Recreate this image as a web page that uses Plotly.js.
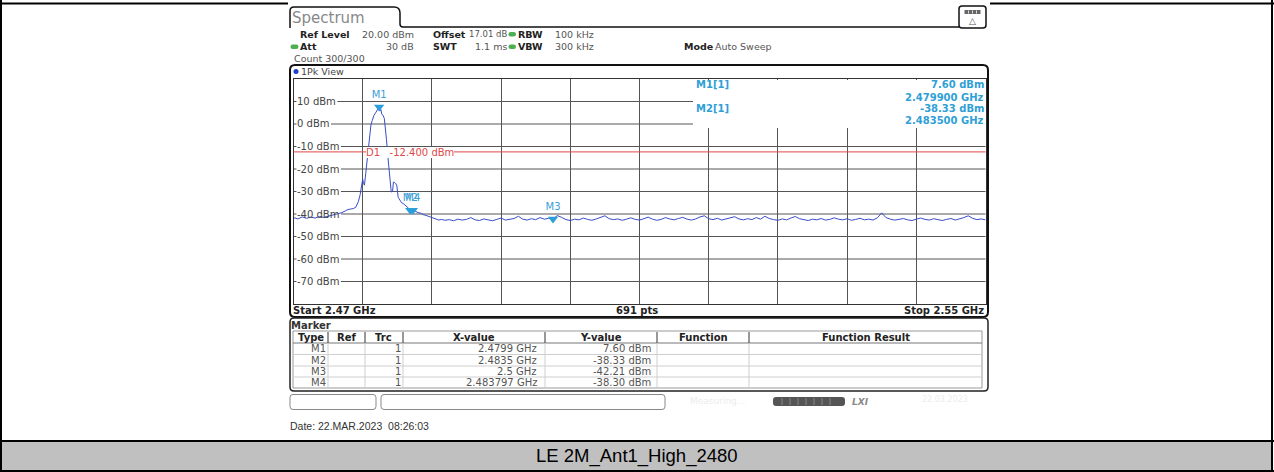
<!DOCTYPE html>
<html>
<head>
<meta charset="utf-8">
<script src="https://cdn.plot.ly/plotly-3.0.1.min.js"></script>
<style>html,body{margin:0;padding:0;background:#fff;}#chart{width:1274px;height:472px;}</style>
</head>
<body>
<div id="chart"></div>
<script>
// ---------------- DATA ----------------
const startGHz = 2.47;
const stopGHz = 2.55;
const sweepPoints = 691;
const refLevelDbm = 20;
const bottomLevelDbm = -80;
const yTickLevels = [10, 0, -10, -20, -30, -40, -50, -60, -70];
const d1LineDbm = -12.4;

// left noise floor: 2470.0 .. 2473.5 MHz, 0.5 MHz apart
const leftFloorStartMHz = 2470.0;
const leftFloorDbm = [-41.6, -42.2, -41.3, -41.9, -41.4, -41.8, -41.1, -41.5];

// main lobe (explicit frequency / level pairs)
const lobeFreqMHz = [2474.0, 2474.4, 2474.8, 2475.2, 2475.6, 2476.0, 2476.3, 2476.6, 2476.9, 2477.2,
  2477.5, 2477.7, 2477.9, 2478.0, 2478.1, 2478.2, 2478.35, 2478.5, 2478.65, 2478.8,
  2478.95, 2479.1, 2479.3, 2479.5, 2479.7, 2479.8, 2479.9, 2480.0, 2480.1, 2480.2,
  2480.35, 2480.5, 2480.6, 2480.75, 2480.9, 2481.05, 2481.2, 2481.3, 2481.45, 2481.55,
  2481.7, 2481.85, 2481.95, 2482.1, 2482.3, 2482.5, 2482.7, 2482.9, 2483.1, 2483.3,
  2483.5, 2483.8, 2484.1, 2484.4, 2484.7, 2485.0, 2485.3, 2485.6, 2485.9, 2486.2,
  2486.5, 2486.8, 2487.1];
const lobeDbm = [-41.0, -40.6, -40.2, -40.0, -39.4, -38.6, -38.0, -37.8, -37.6, -37.0,
  -34.5, -31.5, -27.0, -24.5, -26.5, -27.2, -22.0, -17.0, -11.0, -5.0,
  -0.5, 1.5, 3.8, 5.0, 6.5, 7.2, 7.6, 5.8, 6.4, 4.5,
  3.8, 2.5, -0.5, -7.0, -14.0, -20.0, -26.5, -30.2, -30.0, -25.8,
  -26.0, -26.6, -27.5, -32.6, -33.8, -35.0, -35.4, -36.0, -36.6, -37.4,
  -38.33, -38.3, -38.8, -39.4, -39.6, -40.3, -40.6, -41.0, -41.5, -41.9,
  -42.5, -42.7, -42.4];

// right noise floor: 2487.5 .. 2550.0 MHz, 0.5 MHz apart
const rightFloorStartMHz = 2487.5;
const floorStepMHz = 0.5;
const rightFloorDbm = [-42.8, -42.5, -43.0, -42.3, -42.7, -42.4, -41.6, -42.6, -42.9, -42.2,
  -42.6, -43.0, -42.4, -41.8, -42.7, -42.5, -42.0, -41.0, -42.3, -42.7,
  -42.1, -42.5, -41.6, -42.3, -41.9, -42.2, -40.7, -41.5, -42.5, -42.9,
  -42.3, -42.6, -41.8, -42.4, -42.8, -42.2, -41.6, -40.8, -42.1, -42.5,
  -42.2, -42.8, -42.3, -41.7, -42.4, -42.7, -42.1, -41.4, -42.3, -42.8,
  -42.4, -41.6, -42.2, -42.6, -42.0, -41.5, -42.3, -42.7, -42.2, -41.3,
  -40.8, -42.1, -42.5, -41.9, -42.7, -42.3, -41.8, -41.2, -42.2, -42.6,
  -42.1, -42.5, -41.6, -42.3, -41.0, -42.0, -42.5, -42.8, -42.2, -42.6,
  -41.8, -41.1, -42.1, -42.5, -42.9, -42.3, -42.6, -42.0, -42.7, -42.4,
  -41.7, -42.3, -42.6, -42.1, -42.8, -42.4, -41.9, -42.6, -42.3, -42.7,
  -41.7, -39.5, -41.6, -42.3, -42.7, -42.4, -42.0, -42.6, -42.9, -42.3,
  -41.8, -42.4, -42.7, -42.1, -42.6, -42.9, -42.4, -42.0, -42.7, -42.3,
  -41.6, -40.8, -41.9, -42.5, -42.2, -42.6];

// markers
const markerNames = ['M1', 'M2', 'M3', 'M4'];
const markerFreqGHz = [2.4799, 2.4835, 2.5, 2.483797];
const markerFreqText = ['2.4799 GHz', '2.4835 GHz', '2.5 GHz', '2.483797 GHz'];
const markerLevelDbm = [7.60, -38.33, -42.21, -38.30];
const markerTrace = [1, 1, 1, 1];

// header texts
const headerRows = {
  refLevel: '20.00 dBm', offset: '17.01 dB', rbw: '100 kHz',
  att: '30 dB', swt: '1.1 ms', vbw: '300 kHz', mode: 'Auto Sweep', count: 'Count 300/300'
};
const dateText = 'Date: 22.MAR.2023\u00a0\u00a008:26:03';
const captionText = 'LE 2M_Ant1_High_2480';

// ---------------- BUILD TRACE ----------------
const traceX = [], traceY = [];
leftFloorDbm.forEach((v, i) => { traceX.push((leftFloorStartMHz + i * floorStepMHz) / 1000); traceY.push(v); });
lobeDbm.forEach((v, i) => { traceX.push(lobeFreqMHz[i] / 1000); traceY.push(v); });
rightFloorDbm.forEach((v, i) => { traceX.push((rightFloorStartMHz + i * floorStepMHz) / 1000); traceY.push(v); });

// ---------------- LAYOUT HELPERS ----------------
const W = 1274, H = 472;
const px = x => x / W;
const py = y => 1 - y / H;
const FONT = 'DejaVu Sans';
const shapes = [];
const ann = [];

function rect(x0, y0, x1, y1, o) {
  shapes.push({type: 'rect', xref: 'paper', yref: 'paper', x0: px(x0), x1: px(x1), y0: py(y1), y1: py(y0),
    line: {color: o.lc || 'rgba(0,0,0,0)', width: o.lw || 0}, fillcolor: o.fill || 'rgba(0,0,0,0)', layer: o.layer || 'above'});
}
function seg(x0, y0, x1, y1, color, width, layer) {
  shapes.push({type: 'line', xref: 'paper', yref: 'paper', x0: px(x0), x1: px(x1), y0: py(y0), y1: py(y1),
    line: {color: color, width: width}, layer: layer || 'above'});
}
function rpath(x0, y0, x1, y1, r) {
  const X = v => px(v).toFixed(5), Y = v => py(v).toFixed(5);
  return `M${X(x0 + r)},${Y(y0)} L${X(x1 - r)},${Y(y0)} Q${X(x1)},${Y(y0)} ${X(x1)},${Y(y0 + r)} L${X(x1)},${Y(y1 - r)} Q${X(x1)},${Y(y1)} ${X(x1 - r)},${Y(y1)} L${X(x0 + r)},${Y(y1)} Q${X(x0)},${Y(y1)} ${X(x0)},${Y(y1 - r)} L${X(x0)},${Y(y0 + r)} Q${X(x0)},${Y(y0)} ${X(x0 + r)},${Y(y0)} Z`;
}
function rrect(x0, y0, x1, y1, r, o) {
  shapes.push({type: 'path', xref: 'paper', yref: 'paper', path: rpath(x0, y0, x1, y1, r),
    line: {color: o.lc || 'rgba(0,0,0,0)', width: o.lw || 0}, fillcolor: o.fill || 'rgba(0,0,0,0)', layer: o.layer || 'above'});
}
function T(x, y, text, o) {
  o = o || {};
  ann.push({xref: 'paper', yref: 'paper', x: px(x), y: py(y), text: text, showarrow: false,
    xanchor: o.a || 'left', yanchor: 'middle', borderpad: 0, borderwidth: 0,
    bgcolor: o.bg || 'rgba(0,0,0,0)',
    font: {family: o.f || FONT, size: o.s || 10, color: o.c || '#333'}});
}
// approximate DejaVu Sans advance widths (em) for the y labels
const CW = {'0': .636, '1': .636, '2': .636, '3': .636, '4': .636, '5': .636, '6': .636, '7': .636, '8': .636, '9': .636,
  '-': .361, ' ': .318, 'd': .635, 'B': .686, 'm': .974};
const textW = (s, size) => s.split('').reduce((a, ch) => a + (CW[ch] || .6), 0) * size;

// ---------------- OUTER DOCUMENT FRAME ----------------
rect(1, 441, 1272, 471, {fill: '#c0c0c0', layer: 'below'});
seg(1, 0, 1, 472, '#000', 2, 'below');
seg(1272, 0, 1272, 472, '#000', 2, 'below');
seg(0, 3.5, 1274, 3.5, '#000', 2, 'below');
seg(0, 441, 1274, 441, '#000', 2, 'below');
seg(0, 471, 1274, 471, '#000', 2, 'below');
rect(288, 1, 990, 440, {fill: '#ffffff', layer: 'below'});
T(637, 456, captionText, {a: 'center', f: 'Liberation Sans', s: 18.5, c: '#000'});
T(289.5, 426, dateText, {f: 'Liberation Sans', s: 10.5, c: '#333'});

// ---------------- INSTRUMENT HEADER ----------------
shapes.push({type: 'path', xref: 'paper', yref: 'paper', layer: 'above',
  path: `M${px(290)},${py(28)} L${px(290)},${py(11)} Q${px(290)},${py(7)} ${px(294)},${py(7)} L${px(394)},${py(7)} Q${px(400)},${py(7)} ${px(400)},${py(13)} L${px(400)},${py(24)} Q${px(400)},${py(27)} ${px(403)},${py(27)} L${px(959)},${py(27)}`,
  line: {color: '#111', width: 1.5}});
T(292, 18, 'Spectrum', {s: 15, c: '#888'});
// icon
rrect(959, 6, 986, 28, 3, {lc: '#111', lw: 1.5, fill: '#fff'});
rect(964.5, 10, 980.5, 14, {fill: '#666'});
[968.5, 972.5, 976.5].forEach(x => seg(x, 10.5, x, 13.5, '#ddd', 1));
T(972.5, 21, '△', {a: 'center', s: 9, c: '#555'});

// header rows
const LB = 9.5, VS = 9.5;
T(300, 34, '<b>Ref Level</b>', {s: LB, c: '#222'});
T(414, 34, headerRows.refLevel, {a: 'right', s: VS, c: '#555'});
T(433, 34, '<b>Offset</b>', {s: LB, c: '#222'});
T(507, 34, headerRows.offset, {a: 'right', s: 8.5, c: '#555'});
rrect(508.5, 32, 516, 36.5, 2.2, {fill: '#4caf50'});
T(518, 34, '<b>RBW</b>', {s: LB, c: '#222'});
T(555, 34, headerRows.rbw, {s: VS, c: '#555'});

rrect(290.5, 44.5, 298.5, 49, 2.2, {fill: '#4caf50'});
T(300, 46.5, '<b>Att</b>', {s: LB, c: '#222'});
T(414, 46.5, headerRows.att, {a: 'right', s: VS, c: '#555'});
T(433, 46.5, '<b>SWT</b>', {s: LB, c: '#222'});
T(507, 46.5, headerRows.swt, {a: 'right', s: VS, c: '#555'});
rrect(508.5, 44.5, 516, 49, 2.2, {fill: '#4caf50'});
T(518, 46.5, '<b>VBW</b>', {s: LB, c: '#222'});
T(555, 46.5, headerRows.vbw, {s: VS, c: '#555'});
T(684, 46.5, '<b>Mode</b>', {s: LB, c: '#222'});
T(715, 46.5, headerRows.mode, {s: VS, c: '#555'});
T(294, 58.5, headerRows.count, {s: VS, c: '#555'});

// ---------------- PLOT FRAME ----------------
rrect(290, 65, 988, 317, 5, {lc: '#111', lw: 2});
shapes.push({type: 'circle', xref: 'paper', yref: 'paper', x0: px(293.5), x1: px(298.5), y0: py(74), y1: py(69), fillcolor: '#1f3fc8', line: {width: 0}, layer: 'above'});
T(300.5, 71.5, '1Pk View', {s: 9.5, c: '#444'});

// horizontal grid lines (drawn beneath the trace, with a gap where each label sits)
const labelX = 297;
yTickLevels.forEach(v => {
  const lbl = v + ' dBm';
  const endX = (v >= 0) ? px(693) : px(985.5);
  shapes.push({type: 'line', xref: 'paper', yref: 'y', x0: px(293.5), x1: px(labelX - 0.5), y0: v, y1: v,
    line: {color: '#555', width: 1}, layer: 'below'});
  shapes.push({type: 'line', xref: 'paper', yref: 'y', x0: px(labelX + textW(lbl, 10) + 1.5), x1: endX, y0: v, y1: v,
    line: {color: '#555', width: 1}, layer: 'below'});
  const yPix = 79 + (refLevelDbm - v) / (refLevelDbm - bottomLevelDbm) * 225;
  T(labelX, yPix, lbl, {c: '#444'});
});

// marker info box (white area top right hides vertical grid)
rect(693, 80, 984.5, 128, {fill: '#fff'});

// D1 line
shapes.push({type: 'line', xref: 'x domain', yref: 'y', x0: 0, x1: 1, y0: d1LineDbm, y1: d1LineDbm,
  line: {color: '#e04848', width: 1}, layer: 'above'});
T(365.5, 152, 'D1\u00a0\u00a0\u00a0' + d1LineDbm.toFixed(3) + ' dBm', {c: '#e04848', bg: '#fff'});

// marker info text
const infoC = '#2f9fd6';
T(696, 85, '<b>M1[1]</b>', {c: infoC});
T(983.5, 85, '<b>' + markerLevelDbm[0].toFixed(2) + ' dBm</b>', {a: 'right', c: infoC});
T(983.5, 97, '<b>' + markerFreqGHz[0].toFixed(6) + ' GHz</b>', {a: 'right', c: infoC});
T(696, 108.5, '<b>M2[1]</b>', {c: infoC});
T(983.5, 108.5, '<b>' + markerLevelDbm[1].toFixed(2) + ' dBm</b>', {a: 'right', c: infoC});
T(983.5, 120, '<b>' + markerFreqGHz[1].toFixed(6) + ' GHz</b>', {a: 'right', c: infoC});

// bottom row of plot
T(293, 310, '<b>Start ' + startGHz + ' GHz</b>', {c: '#222'});
T(637, 310, '<b>' + sweepPoints + ' pts</b>', {a: 'center', c: '#222'});
T(983.5, 310, '<b>Stop ' + stopGHz + ' GHz</b>', {a: 'right', c: '#222'});

// ---------------- MARKER TABLE ----------------
rrect(290, 318, 988, 391, 4, {lc: '#222', lw: 1.5});
T(291, 325, '<b>Marker</b>', {c: '#333'});
const colX = [293, 328, 365, 403, 545, 657, 749, 982];
const rowY = [331, 343, 354.5, 366, 377, 388];
rect(293, 331, 982, 388, {lc: '#999', lw: 1});
seg(293, 343, 982, 343, '#777', 1);
for (let r = 2; r < rowY.length - 1; r++) seg(293, rowY[r], 982, rowY[r], '#cfcfcf', 1);
for (let c = 1; c < colX.length - 1; c++) {
  seg(colX[c], 332, colX[c], 343, '#333', 1);
  seg(colX[c], 343, colX[c], 388, '#cfcfcf', 1);
}
const heads = ['Type', 'Ref', 'Trc', 'X-value', 'Y-value', 'Function', 'Function Result'];
heads.forEach((h, i) => T((colX[i] + colX[i + 1]) / 2, 337.5, '<b>' + h + '</b>', {a: 'center', c: '#222'}));
markerNames.forEach((m, i) => {
  const y = (rowY[i + 1] + rowY[i + 2]) / 2;
  T(326, y, m, {a: 'right', c: '#555'});
  T(401, y, String(markerTrace[i]), {a: 'right', c: '#555'});
  T(537, y, markerFreqText[i], {a: 'right', c: '#555'});
  T(651, y, markerLevelDbm[i].toFixed(2) + ' dBm', {a: 'right', c: '#555'});
});

// ---------------- STATUS BAR ----------------
rrect(290, 394.5, 376, 409.5, 3, {lc: '#888', lw: 1, fill: '#fff'});
rrect(381, 394.5, 665, 409.5, 3, {lc: '#888', lw: 1, fill: '#fff'});
T(690, 401, 'Measuring...', {s: 9, c: '#ececec'});
rrect(773, 397, 845, 406, 3, {fill: '#555'});
[782, 790, 798, 806, 814, 822, 830].forEach(x => seg(x, 398, x, 405, '#888', 1));
T(852, 401.5, '<b><i>LXI</i></b>', {s: 9, c: '#888'});
T(922, 399, '22.03.2023', {s: 8, c: '#ececec'});

// ---------------- TRACES ----------------
const traces = [
  {x: traceX, y: traceY, type: 'scatter', mode: 'lines', line: {color: '#3a4cc6', width: 1}, hoverinfo: 'skip'},
  {x: markerFreqGHz, y: markerLevelDbm, type: 'scatter', mode: 'markers+text', text: markerNames,
    textposition: 'top center', textfont: {family: FONT, size: 10, color: '#3aa0d8'},
    marker: {symbol: 'triangle-down', size: 9, color: '#2b9fd9'}, hoverinfo: 'skip'}
];

const axisCommon = {showticklabels: false, ticks: '', zeroline: false, showline: true, mirror: true,
  linecolor: '#333', linewidth: 1, fixedrange: true};

const layout = {
  width: W, height: H, margin: {l: 0, r: 0, t: 0, b: 0},
  paper_bgcolor: '#ffffff', plot_bgcolor: 'rgba(0,0,0,0)', showlegend: false,
  xaxis: Object.assign({domain: [px(293.5), px(985.5)], range: [startGHz, stopGHz], tick0: startGHz,
    dtick: (stopGHz - startGHz) / 10, showgrid: true, gridcolor: '#555', gridwidth: 1}, axisCommon),
  yaxis: Object.assign({domain: [py(304), py(79)], range: [bottomLevelDbm, refLevelDbm], tick0: 0, dtick: 10,
    showgrid: false}, axisCommon),
  shapes: shapes, annotations: ann
};

Plotly.newPlot('chart', traces, layout, {displayModeBar: false, staticPlot: true});
</script>
</body>
</html>
